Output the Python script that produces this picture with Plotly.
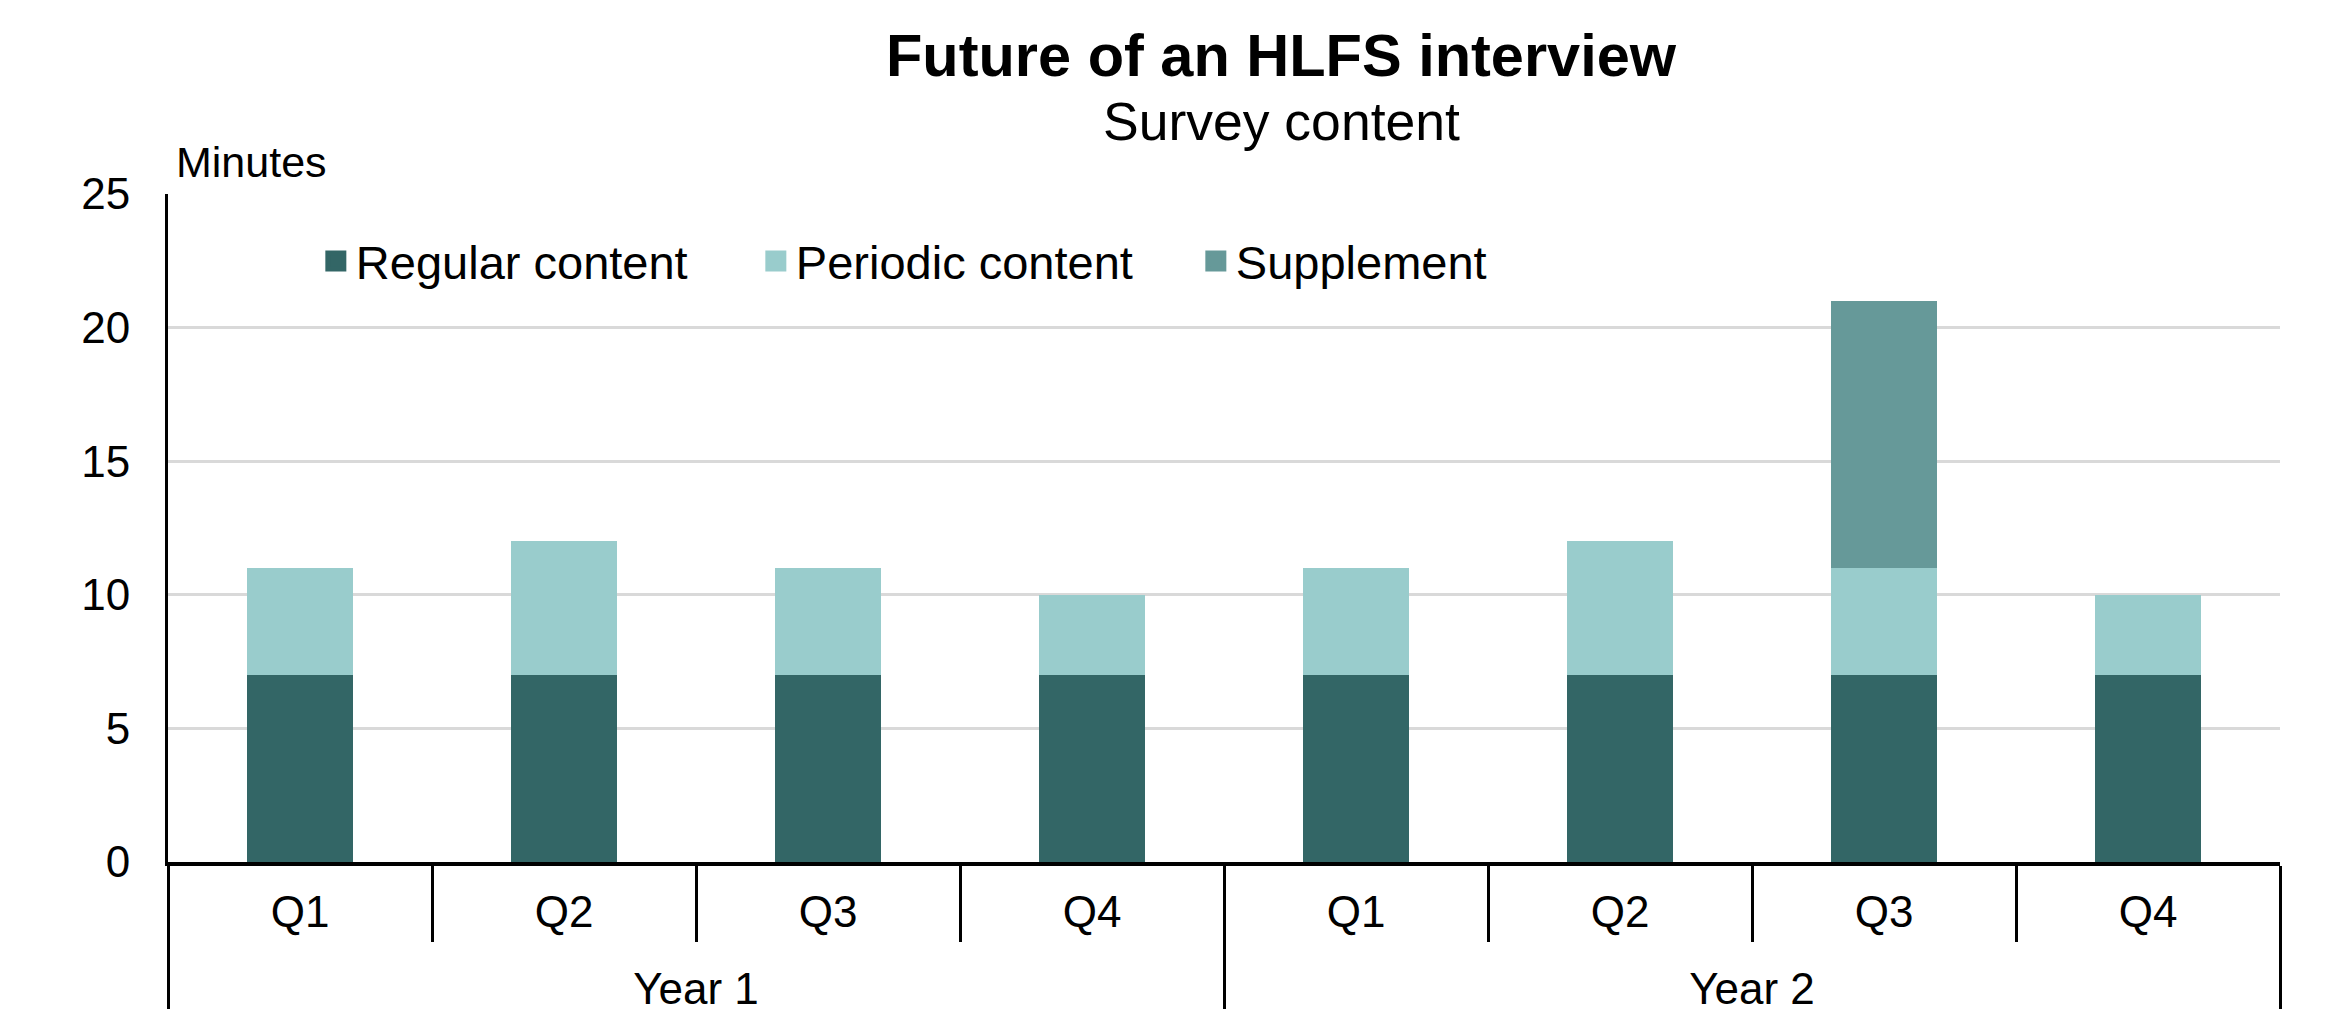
import plotly.graph_objects as go

years = ["Year 1"] * 4 + ["Year 2"] * 4
quarters = ["Q1", "Q2", "Q3", "Q4", "Q1", "Q2", "Q3", "Q4"]
regular = [7, 7, 7, 7, 7, 7, 7, 7]
periodic = [4, 5, 4, 3, 4, 5, 4, 3]
supplement = [0, 0, 0, 0, 0, 0, 10, 0]
y_ticks = [0, 5, 10, 15, 20, 25]

FONT = "Liberation Sans, Arial, sans-serif"

# invisible tall spacer around quarter labels so the year row sits lower
PAD = "<span style='font-size:74px'>\u00a0</span>"
quarter_labels = [PAD + q + PAD for q in quarters]

series = [
    ("Regular content", regular, "#336666"),
    ("Periodic content", periodic, "#99CCCC"),
    ("Supplement", supplement, "#669999"),
]

fig = go.Figure()
for name, vals, col in series:
    fig.add_trace(go.Bar(x=[years, quarter_labels], y=vals, name=name,
                         marker=dict(color=col, line=dict(width=0)), width=0.4,
                         showlegend=False, legendgroup=name))
for name, vals, col in series:
    # legend swatch (larger square than the default bar swatch)
    fig.add_trace(go.Scatter(x=[years, quarter_labels], y=[None] * len(vals),
                             name=name, mode="markers", legendgroup=name,
                             marker=dict(symbol="square", size=16, color=col,
                                         line=dict(color=col, width=5)),
                             hoverinfo="skip"))

fig.update_layout(
    barmode="stack",
    width=2321, height=1001,
    margin=dict(l=160, r=49, t=186, b=147, autoexpand=False),
    paper_bgcolor="white", plot_bgcolor="white",
    font=dict(family=FONT, size=44, color="black"),
    showlegend=True,
    legend=dict(orientation="h", x=0.07, y=0.955, xanchor="left", yanchor="top",
                font=dict(size=47), entrywidth=395, bgcolor="rgba(0,0,0,0)",
                traceorder="normal", itemsizing="trace"),
    annotations=[
        dict(text="<b>Future of an HLFS interview</b>", xref="paper", yref="paper",
             x=0.527, y=1.207, xanchor="center", yanchor="middle", showarrow=False,
             font=dict(size=59.5)),
        dict(text="Survey content", xref="paper", yref="paper",
             x=0.527, y=1.108, xanchor="center", yanchor="middle", showarrow=False,
             font=dict(size=53.5)),
        dict(text="Minutes", xref="paper", yref="paper",
             x=0.003, y=1.048, xanchor="left", yanchor="middle", showarrow=False,
             font=dict(size=43)),
    ],
)
fig.update_yaxes(range=[0, 25], tickvals=y_ticks, showgrid=True, gridcolor="#D9D9D9",
                 gridwidth=3, zeroline=False, showline=True, linecolor="black",
                 linewidth=3, ticks="", ticklabelstandoff=26, automargin=False)
fig.update_xaxes(type="multicategory", showline=True, linecolor="black", linewidth=4,
                 ticks="outside", tickson="boundaries", ticklen=76, tickwidth=3,
                 tickcolor="black", showdividers=True, dividercolor="black",
                 dividerwidth=3, showgrid=False, automargin=False,
                 ticklabelstandoff=8)

fig.write_html("out.html")
